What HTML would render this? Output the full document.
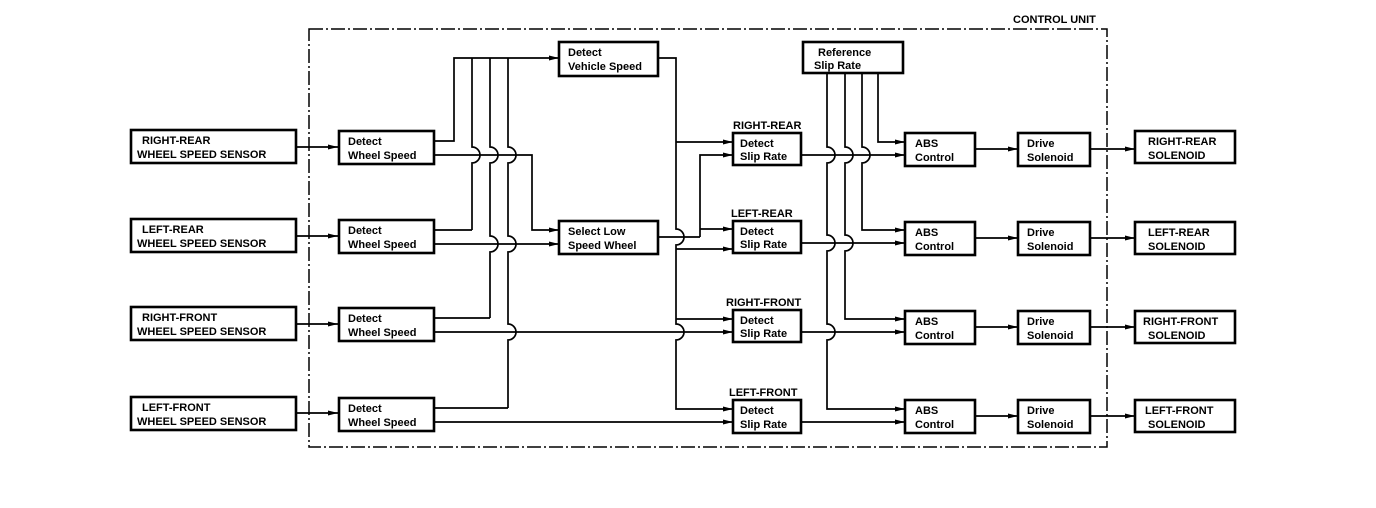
<!DOCTYPE html>
<html><head><meta charset="utf-8"><style>
html,body{margin:0;padding:0;background:#fff;}
svg{display:block;}
text{font-family:"Liberation Sans",sans-serif;font-weight:bold;font-size:11px;fill:#000;}
.b{fill:#fff;stroke:#000;stroke-width:2.6;}
.l{fill:none;stroke:#000;stroke-width:1.7;}
</style></head><body>
<svg width="1376" height="508" viewBox="0 0 1376 508" xmlns="http://www.w3.org/2000/svg">
<defs><marker id="a" markerWidth="10" markerHeight="6" refX="10" refY="3" orient="auto" markerUnits="userSpaceOnUse"><path d="M0,0.5 L10,3 L0,5.5 Z" fill="#000"/></marker></defs>

<!-- control unit -->
<rect x="309" y="29" width="798" height="418" fill="none" stroke="#000" stroke-width="1.5" stroke-dasharray="14,3,2,3"/>
<text x="1013" y="23">CONTROL UNIT</text>

<!-- sensors -->
<rect class="b" x="131" y="130" width="165" height="33"/><text x="142" y="144">RIGHT-REAR</text><text x="137" y="158">WHEEL SPEED SENSOR</text>
<rect class="b" x="131" y="219" width="165" height="33"/><text x="142" y="233">LEFT-REAR</text><text x="137" y="247">WHEEL SPEED SENSOR</text>
<rect class="b" x="131" y="307" width="165" height="33"/><text x="142" y="321">RIGHT-FRONT</text><text x="137" y="335">WHEEL SPEED SENSOR</text>
<rect class="b" x="131" y="397" width="165" height="33"/><text x="142" y="411">LEFT-FRONT</text><text x="137" y="425">WHEEL SPEED SENSOR</text>

<path class="l" marker-end="url(#a)" d="M296,147H338"/>
<path class="l" marker-end="url(#a)" d="M296,236H338"/>
<path class="l" marker-end="url(#a)" d="M296,324H338"/>
<path class="l" marker-end="url(#a)" d="M296,413H338"/>

<!-- wheel speed -->
<rect class="b" x="339" y="131" width="95" height="33"/><text x="348" y="145">Detect</text><text x="348" y="159">Wheel Speed</text>
<rect class="b" x="339" y="220" width="95" height="33"/><text x="348" y="234">Detect</text><text x="348" y="248">Wheel Speed</text>
<rect class="b" x="339" y="308" width="95" height="33"/><text x="348" y="322">Detect</text><text x="348" y="336">Wheel Speed</text>
<rect class="b" x="339" y="398" width="95" height="33"/><text x="348" y="412">Detect</text><text x="348" y="426">Wheel Speed</text>

<rect class="b" x="559" y="42" width="99" height="34"/><text x="568" y="56">Detect</text><text x="568" y="70">Vehicle Speed</text>
<rect class="b" x="559" y="221" width="99" height="33"/><text x="568" y="235">Select Low</text><text x="568" y="249">Speed Wheel</text>

<!-- wheel speed lines -->
<path class="l" marker-end="url(#a)" d="M434,141H454V58H559"/>
<path class="l" d="M472,230H434 M472,230V163A8,8 0 0 0 472,147V58"/>
<path class="l" d="M490,318H434 M490,318V252A8,8 0 0 0 490,236V163A8,8 0 0 0 490,147V58"/>
<path class="l" d="M508,408H434 M508,408V340A8,8 0 0 0 508,324V252A8,8 0 0 0 508,236V163A8,8 0 0 0 508,147V58"/>
<path class="l" marker-end="url(#a)" d="M434,155H532V230H559"/>
<path class="l" marker-end="url(#a)" d="M434,244H559"/>
<path class="l" marker-end="url(#a)" d="M434,332H733"/>
<path class="l" marker-end="url(#a)" d="M434,422H733"/>

<!-- vehicle speed distribution -->
<path class="l" marker-end="url(#a)" d="M658,58H676V229A8,8 0 0 1 676,245V324A8,8 0 0 1 676,340V409H733"/>
<path class="l" marker-end="url(#a)" d="M676,142H733"/>
<path class="l" marker-end="url(#a)" d="M676,249H733"/>
<path class="l" marker-end="url(#a)" d="M676,319H733"/>
<path class="l" d="M658,237H700"/>
<path class="l" marker-end="url(#a)" d="M700,237V155H733"/>
<path class="l" marker-end="url(#a)" d="M700,229H733"/>

<!-- slip rate -->
<text x="733" y="129">RIGHT-REAR</text>
<rect class="b" x="733" y="133" width="68" height="32"/><text x="740" y="147">Detect</text><text x="740" y="160">Slip Rate</text>
<text x="731" y="217">LEFT-REAR</text>
<rect class="b" x="733" y="221" width="68" height="32"/><text x="740" y="235">Detect</text><text x="740" y="248">Slip Rate</text>
<text x="726" y="306">RIGHT-FRONT</text>
<rect class="b" x="733" y="310" width="68" height="32"/><text x="740" y="324">Detect</text><text x="740" y="337">Slip Rate</text>
<text x="729" y="396">LEFT-FRONT</text>
<rect class="b" x="733" y="400" width="68" height="33"/><text x="740" y="414">Detect</text><text x="740" y="428">Slip Rate</text>

<rect class="b" x="803" y="42" width="100" height="31"/><text x="818" y="56">Reference</text><text x="814" y="69">Slip Rate</text>

<!-- reference lines -->
<path class="l" marker-end="url(#a)" d="M878,73V142H905"/>
<path class="l" marker-end="url(#a)" d="M862,73V147A8,8 0 0 1 862,163V230H905"/>
<path class="l" marker-end="url(#a)" d="M845,73V147A8,8 0 0 1 845,163V235A8,8 0 0 1 845,251V319H905"/>
<path class="l" marker-end="url(#a)" d="M827,73V147A8,8 0 0 1 827,163V235A8,8 0 0 1 827,251V324A8,8 0 0 1 827,340V409H905"/>
<path class="l" marker-end="url(#a)" d="M801,155H905"/>
<path class="l" marker-end="url(#a)" d="M801,243H905"/>
<path class="l" marker-end="url(#a)" d="M801,332H905"/>
<path class="l" marker-end="url(#a)" d="M801,422H905"/>

<!-- ABS / drive / solenoid -->
<rect class="b" x="905" y="133" width="70" height="33"/><text x="915" y="147">ABS</text><text x="915" y="161">Control</text>
<rect class="b" x="905" y="222" width="70" height="33"/><text x="915" y="236">ABS</text><text x="915" y="250">Control</text>
<rect class="b" x="905" y="311" width="70" height="33"/><text x="915" y="325">ABS</text><text x="915" y="339">Control</text>
<rect class="b" x="905" y="400" width="70" height="33"/><text x="915" y="414">ABS</text><text x="915" y="428">Control</text>

<path class="l" marker-end="url(#a)" d="M975,149H1018"/>
<path class="l" marker-end="url(#a)" d="M975,238H1018"/>
<path class="l" marker-end="url(#a)" d="M975,327H1018"/>
<path class="l" marker-end="url(#a)" d="M975,416H1018"/>

<rect class="b" x="1018" y="133" width="72" height="33"/><text x="1027" y="147">Drive</text><text x="1027" y="161">Solenoid</text>
<rect class="b" x="1018" y="222" width="72" height="33"/><text x="1027" y="236">Drive</text><text x="1027" y="250">Solenoid</text>
<rect class="b" x="1018" y="311" width="72" height="33"/><text x="1027" y="325">Drive</text><text x="1027" y="339">Solenoid</text>
<rect class="b" x="1018" y="400" width="72" height="33"/><text x="1027" y="414">Drive</text><text x="1027" y="428">Solenoid</text>

<path class="l" marker-end="url(#a)" d="M1090,149H1135"/>
<path class="l" marker-end="url(#a)" d="M1090,238H1135"/>
<path class="l" marker-end="url(#a)" d="M1090,327H1135"/>
<path class="l" marker-end="url(#a)" d="M1090,416H1135"/>

<rect class="b" x="1135" y="131" width="100" height="32"/><text x="1148" y="145">RIGHT-REAR</text><text x="1148" y="159">SOLENOID</text>
<rect class="b" x="1135" y="222" width="100" height="32"/><text x="1148" y="236">LEFT-REAR</text><text x="1148" y="250">SOLENOID</text>
<rect class="b" x="1135" y="311" width="100" height="32"/><text x="1143" y="325">RIGHT-FRONT</text><text x="1148" y="339">SOLENOID</text>
<rect class="b" x="1135" y="400" width="100" height="32"/><text x="1145" y="414">LEFT-FRONT</text><text x="1148" y="428">SOLENOID</text>
</svg>
</body></html>
